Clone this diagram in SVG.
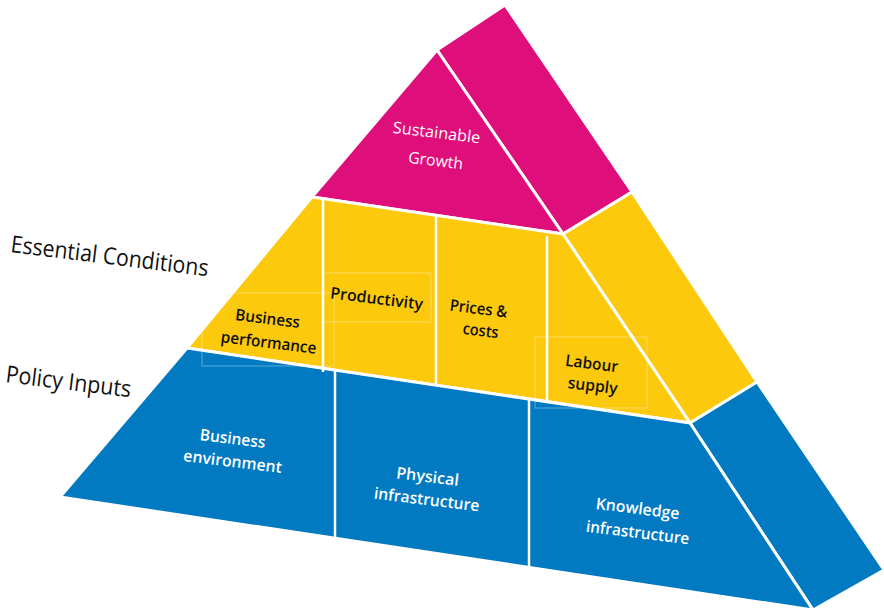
<svg xmlns="http://www.w3.org/2000/svg" width="884" height="612" viewBox="0 0 884 612">
<style>
.face{stroke:#fff;stroke-width:3;stroke-linejoin:round}
.pink{fill:#DE0E7B}
.yellow{fill:#FCC90D}
.blue{fill:#027AC1}
.div{stroke:#fff;stroke-width:2.5;fill:none}
.box{fill:none;stroke:#fff;stroke-opacity:0.35;stroke-width:1}
.lbl{font-family:"Open Sans","Noto Sans",sans-serif;font-weight:600;font-size:16px;text-anchor:middle}
.reg{font-weight:400}
.dark{fill:#111}
.light{fill:#fff}
.side{font-family:"Open Sans","Noto Sans",sans-serif;font-size:23.5px;fill:#111}
</style>
<rect width="884" height="612" fill="#fff"/>
<g id="tier-top">
  <polygon class="face pink" points="437,50 505,5 632,192 563,234"/>
  <polygon class="face pink" points="437,50 312,197 563,234"/>
  <g transform="rotate(7 436 138)"><text class="lbl reg light" x="436" y="138" textLength="88" lengthAdjust="spacingAndGlyphs">Sustainable</text></g>
  <g transform="rotate(7 435 166)"><text class="lbl reg light" x="435" y="166" textLength="55" lengthAdjust="spacingAndGlyphs">Growth</text></g>
</g>
<g id="tier-middle">
  <polygon class="face yellow" points="563,234 632,192 757,382 690,423"/>
  <polygon class="face yellow" points="312,197 563,234 690,423 187,348"/>
</g>
<g id="tier-bottom">
  <polygon class="face blue" points="690,423 757,382 884,570 813,610"/>
  <polygon class="face blue" points="187,348 690,423 813,610 60,497"/>
</g>
<g id="connectors">
  <line class="div" x1="323" y1="200" x2="323" y2="372"/>
  <line class="div" x1="436" y1="216" x2="436" y2="386"/>
  <line class="div" x1="547" y1="236" x2="547" y2="403"/>
  <line class="div" x1="335" y1="371" x2="335" y2="538"/>
  <line class="div" x1="529" y1="400" x2="529" y2="568"/>
  <rect class="box" x="202" y="293" width="132" height="73"/>
  <rect class="box" x="323" y="273" width="108" height="49"/>
  <rect class="box" x="535" y="337" width="112" height="71"/>
</g>
<g id="business-performance">
  <g transform="rotate(7 267 324)"><text class="lbl dark" x="267" y="324" textLength="65" lengthAdjust="spacingAndGlyphs">Business</text></g>
  <g transform="rotate(7 268 348)"><text class="lbl dark" x="268" y="348" textLength="96" lengthAdjust="spacingAndGlyphs">performance</text></g>
</g>
<g id="productivity">
  <g transform="rotate(7 376 304)"><text class="lbl dark" x="376" y="304" textLength="93" lengthAdjust="spacingAndGlyphs">Productivity</text></g>
</g>
<g id="prices-costs">
  <g transform="rotate(7 478 314)"><text class="lbl dark" x="478" y="314" textLength="58" lengthAdjust="spacingAndGlyphs">Prices &amp;</text></g>
  <g transform="rotate(7 480 336)"><text class="lbl dark" x="480" y="336" textLength="36" lengthAdjust="spacingAndGlyphs">costs</text></g>
</g>
<g id="labour-supply">
  <g transform="rotate(7 591 369)"><text class="lbl dark" x="591" y="369" textLength="53" lengthAdjust="spacingAndGlyphs">Labour</text></g>
  <g transform="rotate(7 592 391)"><text class="lbl dark" x="592" y="391" textLength="50" lengthAdjust="spacingAndGlyphs">supply</text></g>
</g>
<g id="business-environment">
  <g transform="rotate(7 232 444)"><text class="lbl light" x="232" y="444" textLength="66" lengthAdjust="spacingAndGlyphs">Business</text></g>
  <g transform="rotate(7 232 467)"><text class="lbl light" x="232" y="467" textLength="99" lengthAdjust="spacingAndGlyphs">environment</text></g>
</g>
<g id="physical-infrastructure">
  <g transform="rotate(7 427 482)"><text class="lbl light" x="427" y="482" textLength="63" lengthAdjust="spacingAndGlyphs">Physical</text></g>
  <g transform="rotate(7 426 505)"><text class="lbl light" x="426" y="505" textLength="106" lengthAdjust="spacingAndGlyphs">infrastructure</text></g>
</g>
<g id="knowledge-infrastructure">
  <g transform="rotate(7 637 514)"><text class="lbl light" x="637" y="514" textLength="84" lengthAdjust="spacingAndGlyphs">Knowledge</text></g>
  <g transform="rotate(7 637 538)"><text class="lbl light" x="637" y="538" textLength="104" lengthAdjust="spacingAndGlyphs">infrastructure</text></g>
</g>
<g id="label-essential-conditions">
  <g transform="rotate(7 10 252)"><text class="side" x="10" y="252" textLength="199" lengthAdjust="spacingAndGlyphs">Essential Conditions</text></g>
</g>
<g id="label-policy-inputs">
  <g transform="rotate(7 5 382)"><text class="side" x="5" y="382" textLength="126" lengthAdjust="spacingAndGlyphs">Policy Inputs</text></g>
</g>
</svg>
